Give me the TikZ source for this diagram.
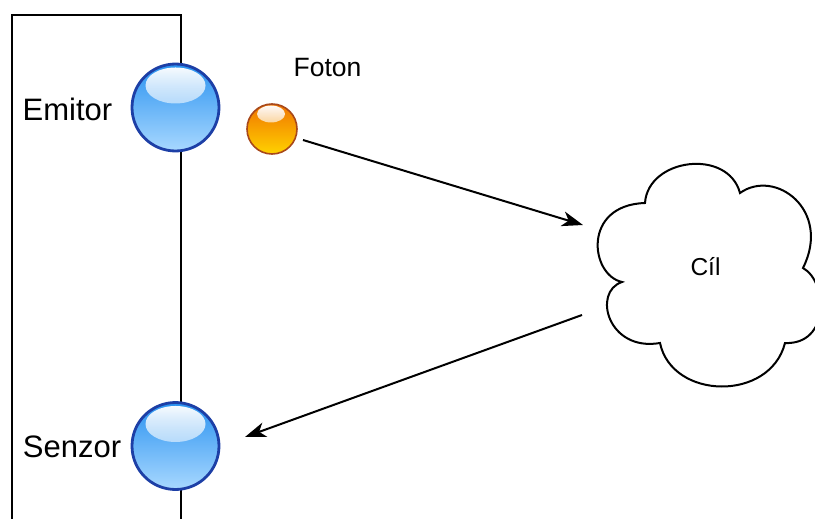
\documentclass[tikz,border=0pt]{standalone}
\usepackage{fontspec}
\setmainfont{Liberation Sans}
\usetikzlibrary{arrows.meta,fadings,calc}
\definecolor{bluerim}{HTML}{1D3FA6}
\definecolor{bluetop}{HTML}{2A92F0}
\definecolor{bluebot}{HTML}{A8D8FF}
\definecolor{orgrim}{HTML}{A8481A}
\definecolor{orgtop}{HTML}{F07400}
\definecolor{orgbot}{HTML}{FFD200}
\tikzfading[name=hlfade, top color=transparent!0, bottom color=transparent!100]
\tikzset{
  bigtext/.style={inner sep=0pt, font=\fontsize{31}{36}\selectfont},
  smalltext/.style={inner sep=0pt, font=\fontsize{26.5}{31}\selectfont},
  cloudtext/.style={inner sep=0pt, font=\fontsize{24.5}{29}\selectfont},
  bluesphere/.style={circle, minimum size=87pt, inner sep=0pt, draw=bluerim, line width=2.8pt,
    top color=bluetop, bottom color=bluebot,
    path picture={\fill[white, path fading=hlfade]
      ($(path picture bounding box.center)+(0,-22)$) ellipse [x radius=30pt, y radius=18pt];}},
  orangesphere/.style={circle, minimum size=50pt, inner sep=0pt, draw=orgrim, line width=1.6pt,
    top color=orgtop, bottom color=orgbot,
    path picture={\fill[white, path fading=hlfade]
      ($(path picture bounding box.center)+(-1,-15)$) ellipse [x radius=14pt, y radius=8.5pt];}},
  conn/.style={line width=2pt, -{Stealth[length=21pt, width=15pt, inset=6pt]}},
  frame/.style={line width=2pt},
  cloudline/.style={line width=2pt}
}
\begin{document}
\begin{tikzpicture}[x=1pt,y=-1pt]
\useasboundingbox (0,0) rectangle (815,519);
% frame
\draw[frame] (12,525) -- (12,15.5) -- (180.5,15.5) -- (180.5,525);
% spheres
\node[bluesphere] (emitor) at (175.5,107.5) {};
\node[bluesphere] (senzor) at (175.5,446) {};
\node[orangesphere] (foton) at (272,129) {};
% labels
\node[bigtext] (emitorlbl) at (67.5,109.5) {Emitor};
\node[bigtext] (senzorlbl) at (72,446.5) {Senzor};
\node[smalltext] (fotonlbl) at (327.5,68) {Foton};
% cloud
\draw[cloudline, fill=white] (622,282)
  .. controls (590,275) and (582,205) .. (645,203)
  .. controls (648,158) and (728,148) .. (740,193)
  .. controls (775,168) and (832,210) .. (803,268)
  .. controls (828,282) and (830,345) .. (785,343)
  .. controls (770,402) and (672,400) .. (660,343)
  .. controls (608,352) and (592,292) .. (622,282) -- cycle;
\node[cloudtext] (cil) at (705.5,267) {Cíl};
% connectors
\coordinate (a1s) at (303,140);
\coordinate (a1e) at (583,225);
\coordinate (a2s) at (582,315);
\coordinate (a2e) at (245,437);
\draw[conn] (a1s) -- (a1e);
\draw[conn] (a2s) -- (a2e);
\end{tikzpicture}
\end{document}
